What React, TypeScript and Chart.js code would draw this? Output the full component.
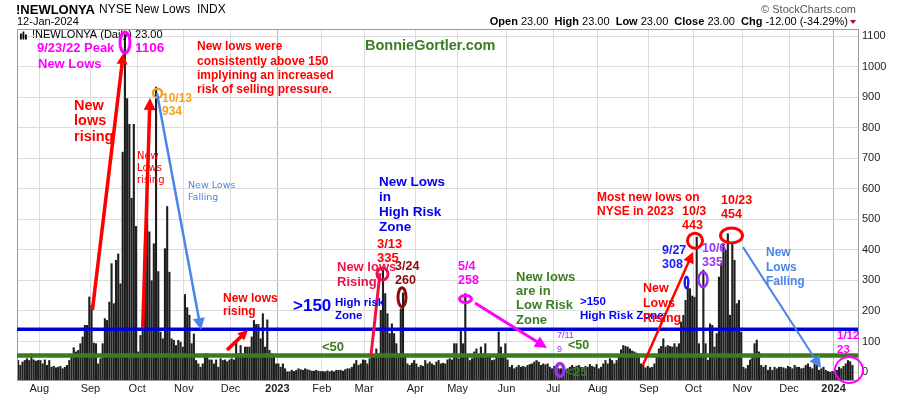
import React, { useEffect, useRef } from "react";
import { Chart, registerables } from "chart.js";

Chart.register(...registerables);

// ---------------- data: NYSE new lows (daily), one array per month ----------------
const jul22 = [39, 23, 34, 39, 45, 39, 61, 41, 37, 39];
const aug22 = [39, 28, 41, 23, 39, 17, 20, 15, 17, 20, 12, 17, 23, 39, 50, 81, 67, 72, 94, 116, 154, 154, 247];
const sep22 = [219, 96, 94, 28, 45, 94, 176, 170, 230, 356, 225, 367, 388, 290, 721, 1106, 896, 812, 570, 812, 478];
const oct22 = [67, 121, 137, 421, 574, 460, 300, 421, 934, 330, 132, 110, 405, 543, 328, 110, 105, 88, 105, 99, 83];
const nov22 = [255, 212, 187, 94, 126, 39, 28, 17, 28, 61, 61, 41, 41, 28, 41, 17, 45, 39, 41, 35, 41];
const dec22 = [45, 41, 105, 61, 88, 61, 83, 83, 83, 116, 170, 157, 157, 110, 192, 83, 172, 72, 61, 50, 28];
const jan23 = [28, 17, 28, 12, 2, 2, 7, 3, 7, 12, 9, 7, 12, 9, 7, 4, 4, 7, 4, 3];
const feb23 = [3, 2, 5, 2, 5, 2, 7, 7, 7, 4, 9, 12, 12, 17, 28, 39, 23, 28, 41];
const mar23 = [39, 28, 45, 50, 56, 77, 61, 203, 335, 258, 192, 127, 159, 127, 94, 61, 208, 260, 50, 28, 23, 30, 39];
const apr23 = [28, 17, 23, 20, 39, 28, 34, 28, 23, 34, 39, 28, 30, 28, 41, 45, 41, 94, 94];
const may23 = [45, 143, 94, 258, 50, 39, 45, 67, 77, 50, 83, 61, 94, 59, 50, 39, 41, 50, 132, 83, 50, 94];
const jun23 = [41, 17, 23, 12, 17, 23, 17, 20, 17, 23, 26, 28, 34, 39, 34, 23, 28, 25, 28, 17, 12];
const jul23 = [20, 17, 12, 12, 14, 9, 12, 17, 23, 17, 20, 23, 17, 12, 20, 17, 26, 20, 17, 26];
const aug23 = [12, 17, 28, 39, 28, 45, 39, 28, 39, 56, 74, 88, 85, 83, 77, 70, 67, 63, 52, 28, 23, 15, 20];
const sep23 = [15, 17, 28, 50, 77, 85, 110, 83, 88, 85, 83, 94, 83, 94, 165, 187, 236, 308, 274, 250];
const oct23 = [246, 443, 94, 61, 335, 94, 40, 159, 154, 83, 127, 312, 356, 421, 400, 454, 187, 421, 367, 225, 236, 132];
const nov23 = [17, 12, 23, 41, 50, 94, 106, 67, 23, 17, 23, 7, 17, 7, 17, 12, 17, 17, 15, 12, 20];
const dec23 = [17, 12, 23, 17, 17, 12, 14, 23, 28, 17, 12, 34, 23, 7, 12, 17, 7, 3, 1, 3];
const jan24 = [3, 7, 17, 12, 20, 28, 39, 35, 23];

const monthSegments = [jul22, aug22, sep22, oct22, nov22, dec22, jan23, feb23, mar23, apr23, may23, jun23, jul23, aug23, sep23, oct23, nov23, dec23, jan24];
const monthTickLabels = ["", "Aug", "Sep", "Oct", "Nov", "Dec", "2023", "Feb", "Mar", "Apr", "May", "Jun", "Jul", "Aug", "Sep", "Oct", "Nov", "Dec", "2024"];
const yTickValues = [0, 50, 100, 150, 200, 250, 300, 350, 400, 450, 500, 550, 600, 650, 700, 750, 800, 850, 900, 950, 1000, 1050, 1100];

const HIGH_RISK_LEVEL = 140;
const LOW_RISK_LEVEL = 54;
const Y_MIN = -26;
const Y_MAX = 1123;
const TRAILING_SLOTS = 2;

// ---------------- styles ----------------
const SANS = '"Liberation Sans", Arial, Helvetica, sans-serif';
const VERD = '"DejaVu Sans", Verdana, sans-serif';
const B = (px: number) => `bold ${px}px ${SANS}`;
const MAGENTA = "#ff00ff";
const RED = "#ff0000";
const ORANGE = "#f5a11e";
const GREEN = "#3b7d22";
const BLUE = "#0000ff";
const CORNFLOWER = "#4a86e8";
const CRIMSON = "#f0104a";
const DARKRED = "#8b0a0a";
const PURPLE = "#9932f0";
const BLUE2 = "#1c1cf0";

// annotations anchored in data coordinates (bar index, value)
type TextNote = { lines: string[]; i: number; v: number; color: string; font: string; lh?: number };
const textNotes: TextNote[] = [
  { lines: ["9/23/22 Peak"], i: 8.49, v: 1060, color: MAGENTA, font: B(13) },
  { lines: ["New Lows"], i: 8.94, v: 1008, color: MAGENTA, font: B(13) },
  { lines: ["1106"], i: 52.54, v: 1060, color: MAGENTA, font: B(13.5) },
  { lines: ["New lows were", "consistently above 150", "implyining an increased", "risk of selling pressure."], i: 80.4, v: 1064, color: RED, font: B(12), lh: 14.3 },
  { lines: ["BonnieGortler.com"], i: 155.91, v: 1067, color: GREEN, font: B(14.5) },
  { lines: ["New", "lows", "rising"], i: 25.12, v: 871, color: RED, font: B(14.5), lh: 15.5 },
  { lines: ["New", "Lows", "rising"], i: 53.43, v: 707, color: RED, font: `10px ${VERD}`, lh: 12 },
  { lines: ["10/13", "934"], i: 64.67, v: 894, color: ORANGE, font: B(12), lh: 13 },
  { lines: ["New Lows", "Falling"], i: 76.36, v: 612, color: CORNFLOWER, font: `9.5px ${VERD}`, lh: 12 },
  { lines: ["New lows", "rising"], i: 92.09, v: 239, color: RED, font: B(12), lh: 13 },
  { lines: [">150"], i: 123.55, v: 216, color: BLUE, font: B(17) },
  { lines: ["High risk", "Zone"], i: 142.43, v: 226, color: BLUE, font: B(11.5), lh: 13 },
  { lines: ["<50"], i: 136.59, v: 82, color: GREEN, font: B(13) },
  { lines: ["New Lows", "in", "High Risk", "Zone"], i: 162.2, v: 622, color: "#0000ee", font: B(13.5), lh: 15 },
  { lines: ["3/13", "335"], i: 161.3, v: 419, color: RED, font: B(13), lh: 14 },
  { lines: ["3/24", "260"], i: 169.4, v: 347, color: DARKRED, font: B(12.5), lh: 14 },
  { lines: ["New lows", "Rising"], i: 143.33, v: 344, color: CRIMSON, font: B(13), lh: 15 },
  { lines: ["5/4", "258"], i: 197.71, v: 344, color: MAGENTA, font: B(12.5), lh: 14 },
  { lines: ["New lows", "are in", "Low Risk", "Zone"], i: 223.78, v: 311, color: GREEN, font: B(13), lh: 14.4 },
  { lines: [">150", "High Risk Zone"], i: 252.55, v: 229, color: BLUE, font: B(11.5), lh: 13.5 },
  { lines: ["7/11", "9"], i: 242.21, v: 121, color: PURPLE, font: `9px ${SANS}`, lh: 14 },
  { lines: ["<50"], i: 247.15, v: 88, color: GREEN, font: B(12.5) },
  { lines: ["<25"], i: 246.25, v: 0, color: GREEN, font: B(12.5) },
  { lines: ["Most new lows on", "NYSE in 2023"], i: 260.19, v: 570, color: RED, font: B(12), lh: 14 },
  { lines: ["10/3", "443"], i: 298.39, v: 524, color: RED, font: B(12.5), lh: 14 },
  { lines: ["10/23", "454"], i: 315.92, v: 560, color: RED, font: B(12.5), lh: 14 },
  { lines: ["9/27", "308"], i: 289.4, v: 399, color: BLUE2, font: B(12.5), lh: 14 },
  { lines: ["10/6", "335"], i: 307.38, v: 403, color: PURPLE, font: B(12.5), lh: 14 },
  { lines: ["New", "Lows", "Rising"], i: 280.86, v: 275, color: RED, font: B(12.5), lh: 15 },
  { lines: ["New", "Lows", "Falling"], i: 336.15, v: 390, color: CORNFLOWER, font: B(12), lh: 14.5 },
  { lines: ["1/12", "23"], i: 368.06, v: 118, color: MAGENTA, font: B(11.5), lh: 14 },
];

type ArrowNote = { from: [number, number]; to: [number, number]; color: string; w: number; head: number };
const arrowNotes: ArrowNote[] = [
  { from: [33.4, 203], to: [47.3, 1044], color: RED, w: 3.5, head: 11 },
  { from: [56.0, 144], to: [59.28, 897], color: RED, w: 3.5, head: 12 },
  { from: [62.42, 913], to: [82.2, 137.5], color: CORNFLOWER, w: 2.5, head: 12 },
  { from: [93.89, 72], to: [103.33, 137.5], color: RED, w: 3.5, head: 10 },
  { from: [158.61, 55.7], to: [162.65, 324], color: CRIMSON, w: 3, head: 0 },
  { from: [205.35, 226], to: [237.71, 78.6], color: MAGENTA, w: 3, head: 12 },
  { from: [280.86, 22.9], to: [303.34, 393], color: RED, w: 2.5, head: 11 },
  { from: [325.81, 409], to: [360.86, 13], color: CORNFLOWER, w: 2, head: 12 },
];

type EllipseNote = { i: number; v: number; rx: number; ry: number; color: string; w: number; fill?: boolean };
const ellipseNotes: EllipseNote[] = [
  { i: 48.04, v: 1079, rx: 5, ry: 10.5, color: MAGENTA, w: 3 },
  { i: 62.65, v: 913, rx: 4.5, ry: 4.5, color: ORANGE, w: 2.5 },
  { i: 163.77, v: 321, rx: 5.5, ry: 6, color: CRIMSON, w: 3 },
  { i: 172.54, v: 245, rx: 4, ry: 9.5, color: DARKRED, w: 3 },
  { i: 201.08, v: 239, rx: 6, ry: 3.5, color: MAGENTA, w: 3 },
  { i: 243.56, v: 6.5, rx: 4, ry: 6.5, color: PURPLE, w: 3.5 },
  { i: 300.41, v: 293, rx: 3, ry: 7, color: BLUE2, w: 1, fill: true },
  { i: 307.83, v: 303, rx: 4.5, ry: 7.5, color: PURPLE, w: 2.5 },
  { i: 304.24, v: 430, rx: 7.5, ry: 7.5, color: RED, w: 3 },
  { i: 320.64, v: 447, rx: 11, ry: 7.5, color: RED, w: 3 },
  { i: 373.45, v: 6.5, rx: 14, ry: 13, color: MAGENTA, w: 2 },
];

export default function App() {
  const ref = useRef<HTMLCanvasElement>(null);

  useEffect(() => {
    document.body.style.margin = "0";
    const canvas = ref.current;
    if (!canvas) return;

    const values = monthSegments.flat();
    const points = values.map((v, i) => ({ x: i, y: v }));
    const labelByValue = new Map<number, string>();
    let acc = 0;
    monthSegments.forEach((seg, k) => {
      if (monthTickLabels[k]) labelByValue.set(acc - 0.5, monthTickLabels[k]);
      acc += seg.length;
    });
    const xTickValues = Array.from(labelByValue.keys());
    const isYear = (val: number) => /^\d{4}$/.test(labelByValue.get(val) || "");
    const last = values[values.length - 1];
    const prev = values[values.length - 2];

    const overlay = {
      id: "overlay",
      afterDatasetsDraw(chart: any) {
        const ctx = chart.ctx as CanvasRenderingContext2D;
        const xs = chart.scales.x;
        const ys = chart.scales.y;
        const X = (i: number) => xs.getPixelForValue(i);
        const Y = (v: number) => ys.getPixelForValue(v);
        const { left, right, top, bottom } = chart.chartArea;
        ctx.save();
        // frame (left/top)
        ctx.strokeStyle = "#9a9a9a";
        ctx.lineWidth = 1;
        ctx.beginPath();
        ctx.moveTo(left + 0.5, bottom);
        ctx.lineTo(left + 0.5, top + 0.5);
        ctx.lineTo(right, top + 0.5);
        ctx.stroke();
        // zone lines
        const hline = (v: number, color: string, w: number) => {
          ctx.strokeStyle = color;
          ctx.lineWidth = w;
          ctx.beginPath();
          ctx.moveTo(left, Y(v));
          ctx.lineTo(right, Y(v));
          ctx.stroke();
        };
        hline(HIGH_RISK_LEVEL, "#0000dd", 3.5);
        hline(LOW_RISK_LEVEL, "#3a7d1c", 4.5);

        // legend inside plot
        ctx.fillStyle = "#000";
        const lx = left + 3;
        const ly = top + 10;
        [[0, 6], [2.5, 8], [5, 5]].forEach(([dx, h]) => ctx.fillRect(lx + dx, ly - h + 0.5, 1.8, h));
        ctx.font = `11px ${SANS}`;
        ctx.textBaseline = "middle";
        ctx.fillText(`!NEWLONYA (Daily) ${last.toFixed(2)}`, lx + 12, top + 6);

        // ellipses
        ellipseNotes.forEach((e) => {
          ctx.beginPath();
          ctx.ellipse(X(e.i), Y(e.v), e.rx, e.ry, 0, 0, Math.PI * 2);
          if (e.fill) {
            ctx.fillStyle = e.color;
            ctx.fill();
            ctx.strokeStyle = "#ffffff";
            ctx.lineWidth = 1;
            ctx.beginPath();
            ctx.moveTo(X(e.i), Y(e.v) - e.ry * 0.5);
            ctx.lineTo(X(e.i), Y(e.v) + e.ry * 0.5);
            ctx.stroke();
          } else {
            ctx.strokeStyle = e.color;
            ctx.lineWidth = e.w;
            ctx.stroke();
          }
        });

        // arrows
        arrowNotes.forEach((a) => {
          const x1 = X(a.from[0]);
          const y1 = Y(a.from[1]);
          const x2 = X(a.to[0]);
          const y2 = Y(a.to[1]);
          const ang = Math.atan2(y2 - y1, x2 - x1);
          const shorten = a.head * 0.7;
          ctx.strokeStyle = a.color;
          ctx.fillStyle = a.color;
          ctx.lineWidth = a.w;
          ctx.lineCap = "butt";
          ctx.beginPath();
          ctx.moveTo(x1, y1);
          ctx.lineTo(x2 - Math.cos(ang) * shorten, y2 - Math.sin(ang) * shorten);
          ctx.stroke();
          if (a.head > 0) {
            const hw = a.head * 0.5;
            const bx = x2 - Math.cos(ang) * a.head;
            const by = y2 - Math.sin(ang) * a.head;
            ctx.beginPath();
            ctx.moveTo(x2, y2);
            ctx.lineTo(bx + Math.sin(ang) * hw, by - Math.cos(ang) * hw);
            ctx.lineTo(bx - Math.sin(ang) * hw, by + Math.cos(ang) * hw);
            ctx.closePath();
            ctx.fill();
          }
        });

        // texts
        ctx.textAlign = "left";
        ctx.textBaseline = "middle";
        textNotes.forEach((t) => {
          ctx.font = t.font;
          ctx.fillStyle = t.color;
          t.lines.forEach((line, k) => ctx.fillText(line, X(t.i), Y(t.v) + k * (t.lh || 14)));
        });
        ctx.restore();
      },
      afterDraw(chart: any) {
        const ctx = chart.ctx as CanvasRenderingContext2D;
        const { left, right } = chart.chartArea;
        ctx.save();
        ctx.textBaseline = "middle";
        ctx.textAlign = "left";
        ctx.fillStyle = "#000";
        ctx.font = B(13);
        ctx.fillText("!NEWLONYA", left - 1, 10);
        const w = ctx.measureText("!NEWLONYA").width;
        ctx.font = `12px ${SANS}`;
        ctx.fillText("NYSE New Lows  INDX", left - 1 + w + 4, 10);
        ctx.font = `11px ${SANS}`;
        ctx.fillText("12-Jan-2024", left, 22);
        // right header
        ctx.textAlign = "right";
        ctx.fillStyle = "#555";
        ctx.font = `11px ${SANS}`;
        ctx.fillText("\u00A9 StockCharts.com", right - 2, 10);
        const chg = last - prev;
        const pct = (chg / prev) * 100;
        const parts: [string, boolean][] = [
          ["Open", true], [` ${last.toFixed(2)}  `, false],
          ["High", true], [` ${last.toFixed(2)}  `, false],
          ["Low", true], [` ${last.toFixed(2)}  `, false],
          ["Close", true], [` ${last.toFixed(2)}  `, false],
          ["Chg", true], [` ${chg.toFixed(2)} (${pct.toFixed(2)}%)`, false],
        ];
        const fontFor = (b: boolean) => (b ? B(11) : `11px ${SANS}`);
        let total = 0;
        parts.forEach(([s, b]) => {
          ctx.font = fontFor(b);
          total += ctx.measureText(s).width;
        });
        let x = right - 10 - total;
        ctx.textAlign = "left";
        ctx.fillStyle = "#000";
        parts.forEach(([s, b]) => {
          ctx.font = fontFor(b);
          ctx.fillText(s, x, 22);
          x += ctx.measureText(s).width;
        });
        ctx.fillStyle = "#a0102a";
        ctx.beginPath();
        ctx.moveTo(right - 8, 20);
        ctx.lineTo(right - 2, 20);
        ctx.lineTo(right - 5, 24);
        ctx.closePath();
        ctx.fill();
        ctx.restore();
      },
    };

    const chart = new Chart(canvas, {
      type: "bar",
      data: {
        datasets: [
          {
            data: points as any,
            backgroundColor: "#1e1e1e",
            borderWidth: 0,
            barPercentage: 0.95,
            categoryPercentage: 1,
            base: Y_MIN,
          } as any,
        ],
      },
      options: {
        responsive: false,
        animation: false,
        devicePixelRatio: 1,
        layout: { padding: { left: 17, top: 29, right: 0, bottom: 0 } },
        plugins: { legend: { display: false }, tooltip: { enabled: false } },
        scales: {
          x: {
            type: "linear",
            min: -0.5,
            max: values.length - 0.5 + TRAILING_SLOTS,
            offset: false,
            afterBuildTicks: (axis: any) => {
              axis.ticks = xTickValues.map((v) => ({ value: v }));
            },
            afterFit: (axis: any) => {
              axis.height = 16;
            },
            grid: {
              offset: false,
              drawTicks: false,
              color: (c: any) => (c.tick && isYear(c.tick.value) ? "#b8b8b8" : "#dcdcdc"),
            },
            border: { display: true, color: "#9a9a9a" },
            ticks: {
              autoSkip: false,
              maxRotation: 0,
              minRotation: 0,
              padding: 2,
              color: "#222",
              callback: (v: any) => labelByValue.get(Number(v)) || "",
              font: (c: any) => ({
                family: SANS,
                size: 11,
                weight: c.tick && isYear(c.tick.value) ? "bold" : "normal",
              }),
            },
          } as any,
          y: {
            position: "right",
            min: Y_MIN,
            max: Y_MAX,
            afterBuildTicks: (axis: any) => {
              axis.ticks = yTickValues.map((v) => ({ value: v }));
            },
            afterFit: (axis: any) => {
              axis.width = 42;
            },
            grid: { drawTicks: false, color: "#dcdcdc" },
            border: { display: true, color: "#9a9a9a" },
            ticks: {
              padding: 4,
              color: "#222",
              font: { family: SANS, size: 11 },
              callback: (v: any) => String(v),
            },
          } as any,
        },
      },
      plugins: [overlay],
    });
    return () => chart.destroy();
  }, []);

  return (
    <div style={{ width: 900, height: 396 }}>
      <canvas ref={ref} width={900} height={396} style={{ display: "block" }} />
    </div>
  );
}
